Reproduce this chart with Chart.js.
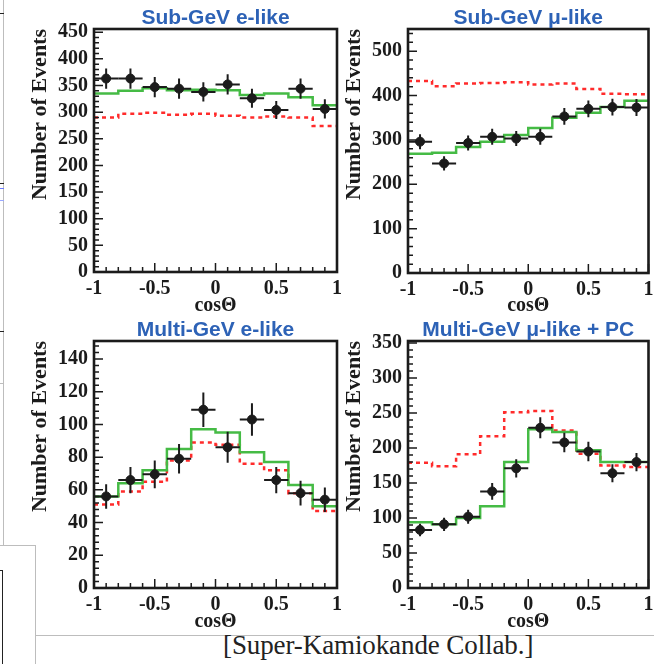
<!DOCTYPE html>
<html><head><meta charset="utf-8">
<script src="https://cdn.jsdelivr.net/npm/chart.js@4"></script>
<style>
body{margin:0;background:#fff;width:654px;height:664px;position:relative;overflow:hidden}
.p{position:absolute}
.ln{position:absolute;background:#bdbdbd}
.dk{position:absolute;background:#222}
#credit{position:absolute;left:223px;top:630px;font:27px "Liberation Serif",serif;color:#222;white-space:nowrap;letter-spacing:-0.1px}
</style></head><body>
<div class="ln" style="left:3px;top:0;width:1px;height:545px"></div>
<div class="dk" style="left:0;top:13px;width:4px;height:1px"></div>
<div class="dk" style="left:0;top:183px;width:4px;height:1px"></div>
<div class="ln" style="left:0;top:188px;width:4px;height:1px;background:#6a7bff"></div>
<div class="ln" style="left:0;top:200px;width:4px;height:1px;background:#9aa8ff"></div>
<div class="dk" style="left:0;top:331px;width:4px;height:1px"></div>
<div class="ln" style="left:0;top:383px;width:4px;height:1px"></div>
<div class="ln" style="left:0;top:545px;width:36px;height:1px"></div>
<div class="ln" style="left:35px;top:545px;width:1px;height:119px"></div>
<div class="dk" style="left:0;top:570px;width:3px;height:1px"></div>
<div class="dk" style="left:2px;top:570px;width:1px;height:94px"></div>
<div class="ln" style="left:35px;top:635px;width:619px;height:1px"></div>
<div id="credit">[Super-Kamiokande Collab.]</div>

<div class="p" style="left:0;top:0"><canvas id="c1" width="345" height="318"></canvas></div>
<div class="p" style="left:314px;top:0"><canvas id="c2" width="340" height="318"></canvas></div>
<div class="p" style="left:0;top:312px"><canvas id="c3" width="345" height="322"></canvas></div>
<div class="p" style="left:314px;top:312px"><canvas id="c4" width="340" height="322"></canvas></div>

<script>
// ---- data ----
const binEdges   = [-1, -0.8, -0.6, -0.4, -0.2, 0, 0.2, 0.4, 0.6, 0.8, 1];
const binCenters = [-0.9, -0.7, -0.5, -0.3, -0.1, 0.1, 0.3, 0.5, 0.7, 0.9];
const xTickValues = [-1, -0.5, 0, 0.5, 1];
const xTickLabels = ['-1', '-0.5', '0', '0.5', '1'];

const titles = ['Sub-GeV e-like', 'Sub-GeV \u03bc-like', 'Multi-GeV e-like', 'Multi-GeV \u03bc-like + PC'];

// Sub-GeV e-like
const subEData  = [363, 363, 347, 344, 338, 352, 326, 304, 344, 306];
const subEErr   = [19, 19, 19, 19, 18, 19, 18, 17, 19, 18];
const subEOsc   = [335, 340, 345, 341, 342, 341, 332, 335, 328, 313];
const subENoOsc = [290, 297, 299, 295, 297, 293, 290, 292, 290, 274];
const subEYTicks = [0, 50, 100, 150, 200, 250, 300, 350, 400, 450];

// Sub-GeV mu-like
const subMuData  = [296, 247, 293, 307, 303, 307, 353, 370, 374, 373];
const subMuErr   = [17, 16, 17, 18, 17, 18, 19, 19, 19, 19];
const subMuOsc   = [269, 271, 284, 296, 311, 327, 350, 361, 374, 388];
const subMuNoOsc = [433, 421, 427, 428, 430, 425, 427, 415, 404, 403];
const subMuYTicks = [0, 100, 200, 300, 400, 500];

// Multi-GeV e-like
const mulEData  = [56, 66, 69.5, 79, 109, 86, 103, 66, 58, 54];
const mulEErr   = [7.5, 8, 8.5, 9, 10.5, 9.5, 10, 8, 7.5, 7.5];
const mulEOsc   = [56, 64, 72, 85, 97, 95, 83, 77, 63, 50];
const mulENoOsc = [51, 59, 65, 78, 89, 87.5, 76, 72, 58, 47];
const mulEYTicks = [0, 20, 40, 60, 80, 100, 120, 140];

// Multi-GeV mu-like + PC
const mulMuData  = [83, 91, 102, 138, 171, 229, 208, 195, 164, 180];
const mulMuErr   = [9, 9.5, 10, 12, 13, 15, 14, 14, 13, 13];
const mulMuOsc   = [94, 91, 100, 117, 180, 227, 223, 197, 180, 180];
const mulMuNoOsc = [179, 174, 191, 217, 251, 253, 225, 192, 175, 173];
const mulMuYTicks = [0, 50, 100, 150, 200, 250, 300, 350];

// ---- drawing ----
const tickFont = {family: 'Liberation Serif', weight: 'bold', size: 20};
const INK = '#1b1b1b';

function panelPlugin(cfg) {
  return {
    id: 'panel' + cfg.id,
    beforeDatasetDraw(chart, args) {
      if (args.index !== 0) return;
      const {ctx, scales: {x, y}} = chart;
      ctx.save();
      ctx.strokeStyle = INK; ctx.lineWidth = 2;
      binCenters.forEach((c, i) => {
        const v = cfg.data[i], e = cfg.err[i];
        const px = x.getPixelForValue(c), py = y.getPixelForValue(v);
        ctx.beginPath();
        ctx.moveTo(x.getPixelForValue(c - 0.1), py); ctx.lineTo(x.getPixelForValue(c + 0.1), py);
        ctx.moveTo(px, y.getPixelForValue(v - e)); ctx.lineTo(px, y.getPixelForValue(v + e));
        ctx.stroke();
      });
      ctx.restore();
    },
    afterDraw(chart) {
      const {ctx, chartArea: a, scales: {x, y}} = chart;
      ctx.save();
      ctx.strokeStyle = INK;
      ctx.lineWidth = 1.5;
      ctx.beginPath();
      for (let k = 0; k <= 20; k++) {
        const v = -1 + k * 0.1;
        const px = x.getPixelForValue(v);
        const len = (k % 5 === 0) ? 9 : 5;
        ctx.moveTo(px, a.bottom); ctx.lineTo(px, a.bottom - len);
      }
      const ymax = y.max;
      for (let v = 0; v <= ymax + 1e-9; v += cfg.minor) {
        const py = y.getPixelForValue(v);
        const isMajor = cfg.yTicks.some(t => Math.abs(t - v) < 1e-6);
        ctx.moveTo(a.left, py); ctx.lineTo(a.left + (isMajor ? 9 : 5), py);
      }
      ctx.stroke();
      ctx.lineWidth = 2.6;
      ctx.strokeRect(a.left, a.top, a.right - a.left, a.bottom - a.top);
      ctx.fillStyle = '#2d62b6';
      ctx.font = 'bold 21px "Liberation Sans", Arial, sans-serif';
      ctx.textAlign = 'center';
      ctx.textBaseline = 'alphabetic';
      ctx.fillText(cfg.title, (a.left + a.right) / 2, a.top - 5);
      ctx.restore();
    }
  };
}

function makePanel(cfg) {
  const pts = binCenters.map((c, i) => ({x: c, y: cfg.data[i]}));
  const step = vals => binEdges.map((e, i) => ({x: e, y: vals[Math.min(i, vals.length - 1)]}));
  new Chart(document.getElementById(cfg.id), {
    type: 'line',
    data: {datasets: [
      {type: 'scatter', data: pts, pointRadius: 4.5, pointBackgroundColor: INK, pointBorderColor: INK, showLine: false},
      {data: step(cfg.osc), stepped: 'before', borderColor: '#45bb45', borderWidth: 2.5, pointRadius: 0, fill: false},
      {data: step(cfg.noosc), stepped: 'before', borderColor: '#ff2b2b', borderWidth: 2.5, borderDash: [4, 4], pointRadius: 0, fill: false}
    ]},
    options: {
      responsive: false, animation: false, events: [],
      layout: {padding: {top: 29, right: cfg.padR, left: 0, bottom: 0}},
      plugins: {legend: {display: false}, tooltip: {enabled: false}, title: {display: false}},
      scales: {
        x: {
          type: 'linear', min: -1, max: 1,
          grid: {display: false, drawTicks: false}, border: {display: false},
          afterBuildTicks: s => { s.ticks = xTickValues.map(v => ({value: v})); },
          afterFit: s => { s.height = cfg.xh; s.paddingLeft = 0; s.paddingRight = 0; },
          ticks: {callback: (v, i) => xTickLabels[i], padding: 5, color: INK, font: tickFont, maxRotation: 0, autoSkip: false},
          title: {display: true, text: 'cos\u0398', color: INK, font: tickFont, padding: {top: 0, bottom: 0}}
        },
        y: {
          type: 'linear', min: 0, max: cfg.ymax,
          grid: {display: false, drawTicks: false}, border: {display: false},
          afterBuildTicks: s => { s.ticks = cfg.yTicks.map(v => ({value: v})); },
          afterFit: s => { s.width = 94; s.paddingTop = 0; s.paddingBottom = 0; },
          ticks: {callback: (v, i) => String(cfg.yTicks[i]), padding: 6, color: INK, font: tickFont, autoSkip: false},
          title: {display: true, text: 'Number of Events', align: 'end', color: INK, font: {family: 'Liberation Serif', weight: 'bold', size: 22}, padding: {top: cfg.ytPad, bottom: 0}}
        }
      }
    },
    plugins: [panelPlugin(cfg)]
  });
}

makePanel({id: 'c1', title: titles[0], data: subEData, err: subEErr, osc: subEOsc, noosc: subENoOsc, yTicks: subEYTicks, ymax: 456, minor: 10, padR: 8, xh: 46, ytPad: 27});
makePanel({id: 'c2', title: titles[1], data: subMuData, err: subMuErr, osc: subMuOsc, noosc: subMuNoOsc, yTicks: subMuYTicks, ymax: 550, minor: 20, padR: 4, xh: 45, ytPad: 27});
makePanel({id: 'c3', title: titles[2], data: mulEData, err: mulEErr, osc: mulEOsc, noosc: mulENoOsc, yTicks: mulEYTicks, ymax: 151, minor: 4, padR: 8, xh: 46, ytPad: 27});
makePanel({id: 'c4', title: titles[3], data: mulMuData, err: mulMuErr, osc: mulMuOsc, noosc: mulMuNoOsc, yTicks: mulMuYTicks, ymax: 353, minor: 10, padR: 4, xh: 46, ytPad: 27});
</script>
</body></html>
